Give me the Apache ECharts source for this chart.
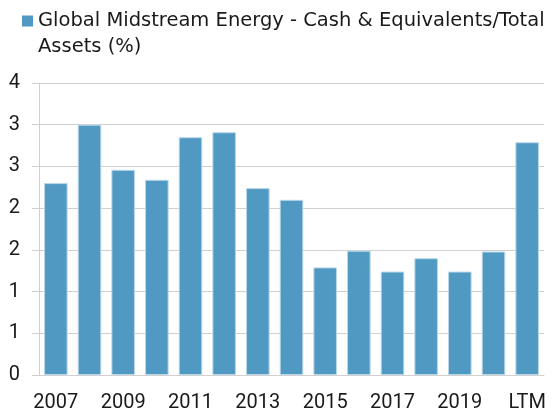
<!DOCTYPE html>
<html>
<head>
<meta charset="utf-8">
<script src="https://cdn.jsdelivr.net/npm/echarts@6/dist/echarts.min.js"></script>
<style>
  html, body { margin: 0; padding: 0; background: #fff; }
  #chart { width: 555px; height: 414px; }
</style>
</head>
<body>
<div id="chart"></div>
<script>
const categories = ["2007", "2008", "2009", "2010", "2011", "2012", "2013", "2014",
  "2015", "2016", "2017", "2018", "2019", "2020", "LTM"];
const cashRatio = [2.30, 3.00, 2.46, 2.34, 2.85, 2.91, 2.24, 2.10,
  1.29, 1.49, 1.24, 1.40, 1.24, 1.48, 2.79];
const yTickLabels = ["0", "1", "1", "2", "2", "3", "3", "4"];
const seriesName = "Global Midstream Energy - Cash & Equivalents/Total";
const seriesNameLine2 = "Assets (%)";

const font = "Roboto, 'Noto Sans', sans-serif";
const legendFont = "'DejaVu Sans', 'Open Sans', sans-serif";
const chart = echarts.init(document.getElementById("chart"));

chart.setOption({
  animation: false,
  legend: {
    left: 22,
    top: 11,
    padding: 0,
    itemWidth: 11,
    itemHeight: 11,
    icon: "rect",
    itemStyle: { borderWidth: 0 },
    textStyle: { fontFamily: legendFont, fontSize: 19.5, color: "#1a1a1a" }
  },
  graphic: [{
    type: "text",
    left: 38,
    top: 37,
    style: { text: seriesNameLine2, font: "19.5px " + legendFont, fill: "#1a1a1a" }
  }],
  grid: { left: 39, right: 11, top: 83, bottom: 39 },
  xAxis: {
    type: "category",
    data: categories,
    axisLine: { lineStyle: { color: "#d0d0d0", width: 1 } },
    axisTick: { show: false },
    axisLabel: { interval: 1, margin: 18, fontFamily: font, fontSize: 20, color: "#1a1a1a" }
  },
  yAxis: {
    type: "value",
    min: 0,
    max: 3.5,
    interval: 0.5,
    axisLine: { show: true, lineStyle: { color: "#d0d0d0" } },
    axisTick: { show: true, length: 7, lineStyle: { color: "#d0d0d0" } },
    splitLine: { lineStyle: { color: "#d0d0d0" } },
    axisLabel: {
      margin: 19,
      fontFamily: font,
      fontSize: 20,
      color: "#1a1a1a",
      formatter: (v) => yTickLabels[Math.round(v / 0.5)]
    }
  },
  series: [{
    name: seriesName,
    type: "bar",
    data: cashRatio,
    barCategoryGap: "30%",
    itemStyle: { color: "#4f99c2", borderColor: "#b9d8ea", borderWidth: 1 }
  }]
});
</script>
</body>
</html>
